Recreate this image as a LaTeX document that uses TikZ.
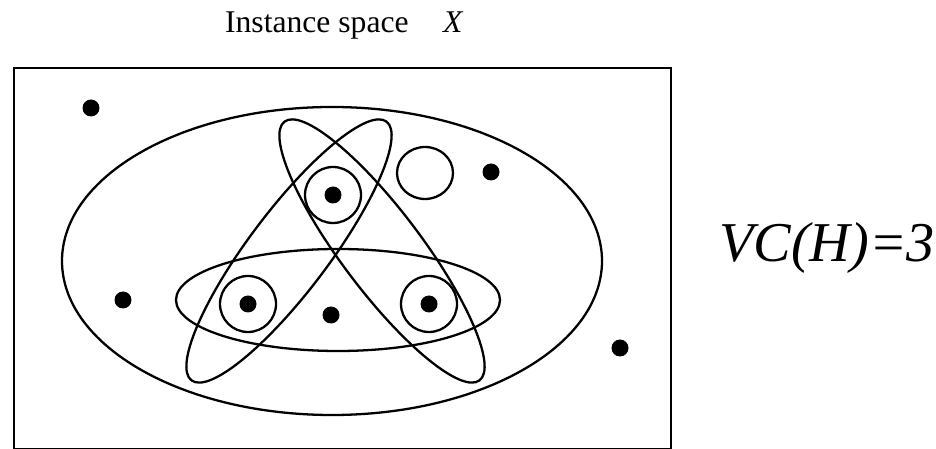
\documentclass[tikz,border=0pt]{standalone}
\usepackage{fontspec}
\setmainfont{Liberation Serif}
\usepackage{tikz}

\begin{document}
\begin{tikzpicture}[x=0.02cm,y=0.02cm,line width=1.3pt,
  instpt/.style={circle,fill=black,inner sep=0pt,minimum size=0.34cm},
  ring/.style={circle,draw,line width=1.3pt,inner sep=0pt,minimum size=1.12cm}]
\useasboundingbox (0,0) rectangle (936,449);
% instance space
\draw[line width=1.6pt] (14,-0.8) rectangle (671,381);
\node[anchor=base west,inner sep=0pt,font=\fontsize{18}{20}\selectfont] (title) at (224,416) {Instance space};
\node[anchor=base west,font=\fontsize{18}{20}\selectfont\itshape,inner sep=0pt] (xlab) at (442,416) {X};
% hypotheses
\draw (332,188) ellipse [x radius=270,y radius=154];
\draw (338,149) ellipse [x radius=162,y radius=51];
\draw[rotate around={-53:(382,198)}] (382,198) ellipse [x radius=162,y radius=40];
\draw[rotate around={53:(289,198)}] (289,198) ellipse [x radius=162,y radius=40];
\draw (425,276) ellipse [x radius=28,y radius=26];
% points
\node[instpt] (a) at (333,254) {};
\node[instpt] (b) at (248,145) {};
\node[instpt] (c) at (429,145) {};
\node[instpt] (m) at (331,134) {};
\node[instpt] (o1) at (91,341) {};
\node[instpt] (o2) at (123,149) {};
\node[instpt] (o3) at (491,277) {};
\node[instpt] (o4) at (620,101) {};
\node[ring] (ra) at (a) {};
\node[ring] (rb) at (b) {};
\node[ring] (rc) at (c) {};
\node[anchor=base west,inner sep=0pt,font=\fontsize{32}{36}\selectfont\itshape] (vc) at (718,187) {VC(H)=3};
\end{tikzpicture}
\end{document}
